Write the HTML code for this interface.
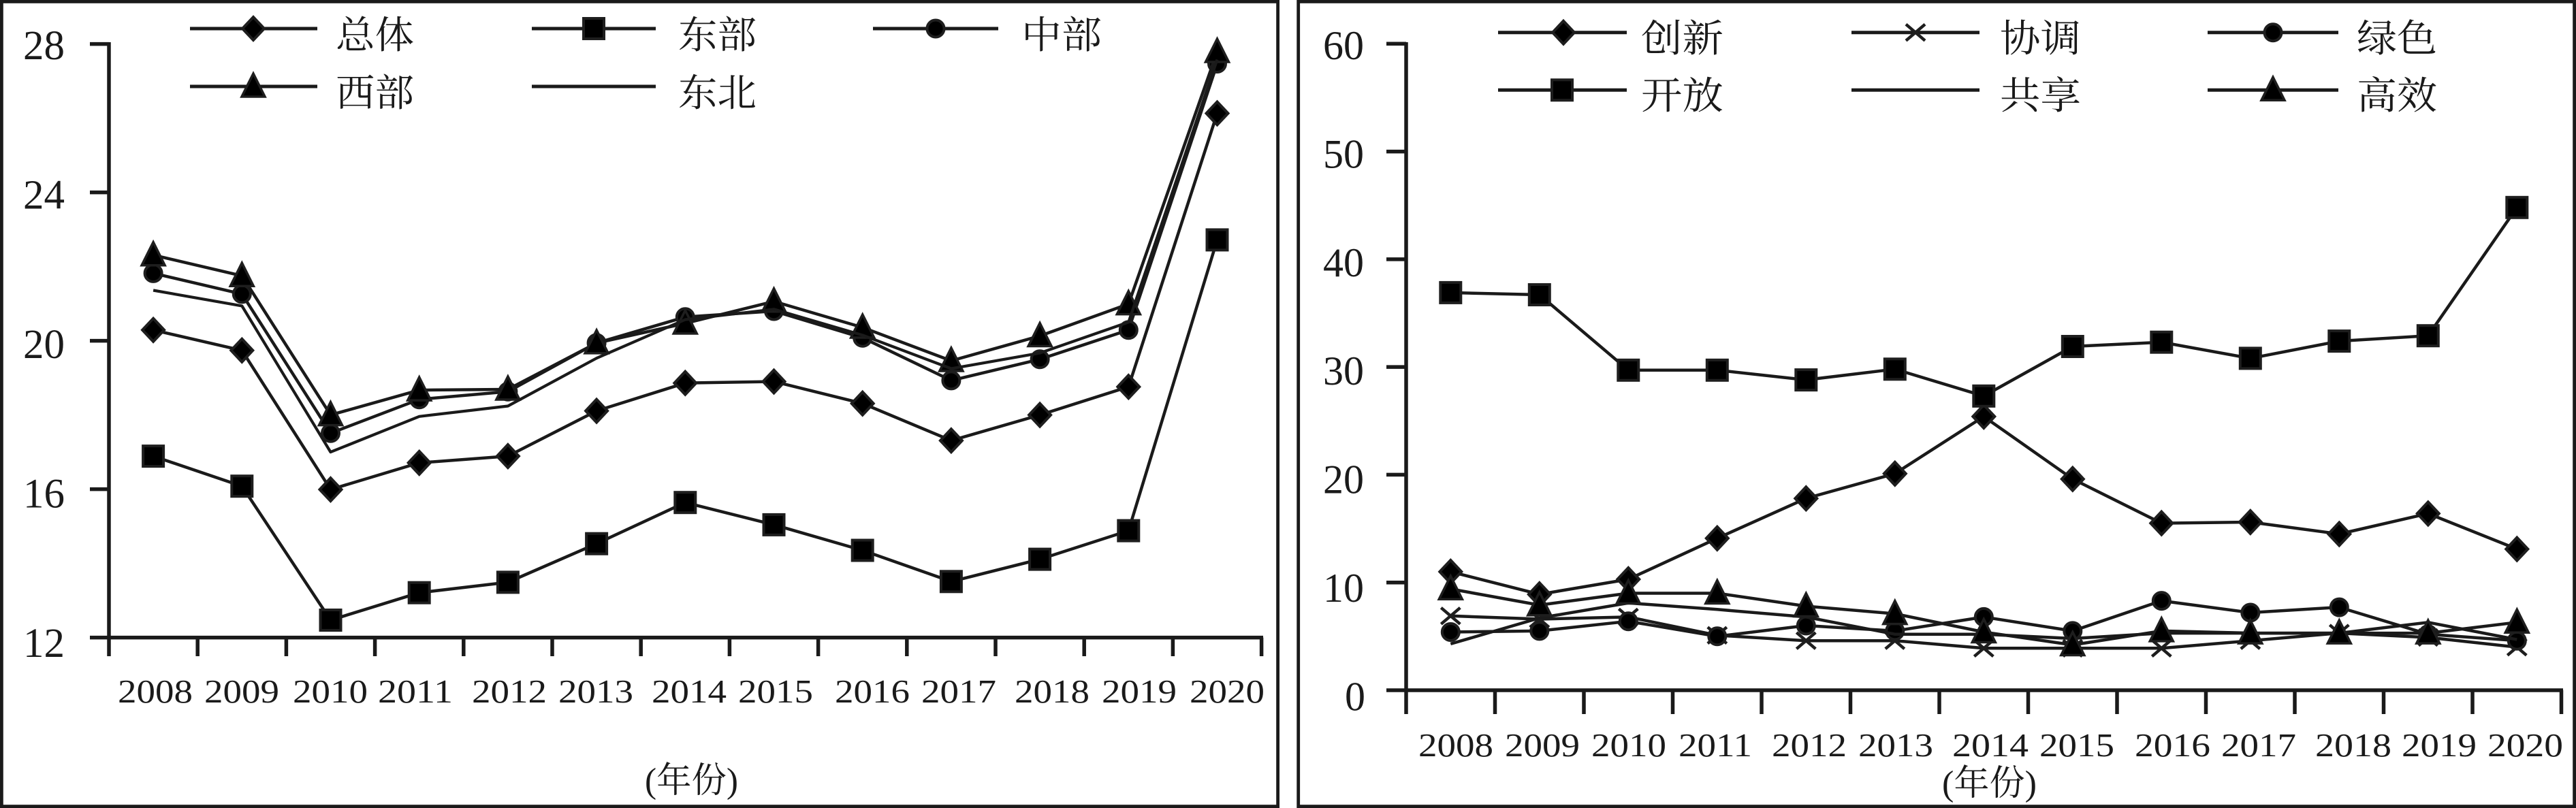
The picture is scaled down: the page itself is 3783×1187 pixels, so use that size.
<!DOCTYPE html>
<html><head><meta charset="utf-8"><style>
html,body{margin:0;padding:0;background:#fff;}
svg{display:block;}
.t{font-family:"Liberation Serif","Noto Serif CJK SC",serif;fill:#1a1a1a;}
.c{font-family:"Liberation Serif","Noto Serif CJK SC","Noto Sans CJK SC",serif;fill:#1a1a1a;}
</style></head><body>
<svg width="3783" height="1187" viewBox="0 0 3783 1187" xmlns="http://www.w3.org/2000/svg">
<defs>
<polygon id="d" points="0,-17 16,0 0,17 -16,0" fill="#000" stroke="#1e1e1e" stroke-width="4"/>
<rect id="s" x="-15" y="-15" width="30" height="30" fill="#000" stroke="#1e1e1e" stroke-width="4"/>
<polygon id="tr" points="0,-19 17,15 -17,15" fill="#000" stroke="#1e1e1e" stroke-width="3.5"/>
<circle id="o" r="12.5" fill="#000" stroke="#1e1e1e" stroke-width="4"/>
<path id="x" d="M-14,-12 L14,12 M-14,12 L14,-12" fill="none" stroke="#1e1e1e" stroke-width="4.5"/>
</defs>
<rect x="0" y="0" width="3783" height="1187" fill="#fff"/>
<!-- panel borders -->
<rect x="2.4" y="2.4" width="1874.2" height="1182.2" fill="none" stroke="#1a1a1a" stroke-width="4.8"/>
<rect x="1906.7" y="2.4" width="1873.9" height="1182.2" fill="none" stroke="#1a1a1a" stroke-width="4.8"/>

<!-- LEFT AXES -->
<g stroke="#1a1a1a" stroke-width="5.5" fill="none">
<path d="M160,62 V964 M132,64.6 H160 M132,282.6 H160 M132,500.6 H160 M132,718.6 H160 M132,936.6 H1855"/>
<path d="M290.2,936.6 V964 M420.4,936.6 V964 M550.6,936.6 V964 M680.8,936.6 V964 M811,936.6 V964 M941.2,936.6 V964 M1071.4,936.6 V964 M1201.6,936.6 V964 M1331.8,936.6 V964 M1462,936.6 V964 M1592.2,936.6 V964 M1722.4,936.6 V964 M1852.6,936.6 V964"/>
</g>
<g class="t" font-size="61" text-anchor="end">
<text x="95" y="87">28</text>
<text x="95" y="306.5">24</text>
<text x="95" y="526">20</text>
<text x="95" y="745.5">16</text>
<text x="95" y="965">12</text>
</g>
<g class="t" font-size="49">
<text x="173" y="1032" textLength="110" lengthAdjust="spacingAndGlyphs">2008</text>
<text x="300" y="1032" textLength="110" lengthAdjust="spacingAndGlyphs">2009</text>
<text x="430" y="1032" textLength="110" lengthAdjust="spacingAndGlyphs">2010</text>
<text x="555" y="1032" textLength="110" lengthAdjust="spacingAndGlyphs">2011</text>
<text x="693" y="1032" textLength="110" lengthAdjust="spacingAndGlyphs">2012</text>
<text x="820" y="1032" textLength="110" lengthAdjust="spacingAndGlyphs">2013</text>
<text x="957" y="1032" textLength="110" lengthAdjust="spacingAndGlyphs">2014</text>
<text x="1084" y="1032" textLength="110" lengthAdjust="spacingAndGlyphs">2015</text>
<text x="1226" y="1032" textLength="110" lengthAdjust="spacingAndGlyphs">2016</text>
<text x="1353" y="1032" textLength="110" lengthAdjust="spacingAndGlyphs">2017</text>
<text x="1490" y="1032" textLength="110" lengthAdjust="spacingAndGlyphs">2018</text>
<text x="1618" y="1032" textLength="110" lengthAdjust="spacingAndGlyphs">2019</text>
<text x="1747" y="1032" textLength="110" lengthAdjust="spacingAndGlyphs">2020</text>
</g>
<text class="c" x="947" y="1164" font-size="52" textLength="137" lengthAdjust="spacingAndGlyphs">(年份)</text>

<!-- LEFT LEGEND -->
<g stroke="#1a1a1a" stroke-width="5" fill="none">
<path d="M279,42 H466 M781,42 H963 M1282,42 H1466 M279,127 H466 M781,127 H963"/>
</g>
<use href="#d" x="372" y="42"/>
<use href="#s" x="872" y="42"/>
<use href="#o" x="1374" y="42"/>
<use href="#tr" x="372" y="127"/>
<g class="c" font-size="56">
<text x="493" y="71" textLength="115" lengthAdjust="spacingAndGlyphs">总体</text>
<text x="996" y="71" textLength="115" lengthAdjust="spacingAndGlyphs">东部</text>
<text x="1500" y="71" textLength="118" lengthAdjust="spacingAndGlyphs">中部</text>
<text x="493" y="156" textLength="115" lengthAdjust="spacingAndGlyphs">西部</text>
<text x="996" y="156" textLength="115" lengthAdjust="spacingAndGlyphs">东北</text>
</g>

<!-- LEFT SERIES -->
<polyline fill="none" stroke="#1a1a1a" stroke-width="4.5" stroke-linejoin="round" points="225.1,484.8 355.3,514.8 485.5,719.1 615.7,679.9 745.9,670.1 876.1,603.6 1006.3,562.7 1136.5,560.5 1266.7,592.7 1396.9,647.2 1527.1,609.6 1657.3,568.2 1787.5,166.5"/>
<g>
<use href="#d" x="225.1" y="484.8"/><use href="#d" x="355.3" y="514.8"/><use href="#d" x="485.5" y="719.1"/><use href="#d" x="615.7" y="679.9"/><use href="#d" x="745.9" y="670.1"/><use href="#d" x="876.1" y="603.6"/><use href="#d" x="1006.3" y="562.7"/><use href="#d" x="1136.5" y="560.5"/><use href="#d" x="1266.7" y="592.7"/><use href="#d" x="1396.9" y="647.2"/><use href="#d" x="1527.1" y="609.6"/><use href="#d" x="1657.3" y="568.2"/><use href="#d" x="1787.5" y="166.5"/>
</g>
<polyline fill="none" stroke="#1a1a1a" stroke-width="4.5" stroke-linejoin="round" points="225.1,670.1 355.3,714.2 485.5,911.0 615.7,870.7 745.9,855.4 876.1,798.7 1006.3,738.2 1136.5,770.9 1266.7,808.5 1396.9,854.3 1527.1,821.6 1657.3,779.6 1787.5,352.4"/>
<g>
<use href="#s" x="225.1" y="670.1"/><use href="#s" x="355.3" y="714.2"/><use href="#s" x="485.5" y="911.0"/><use href="#s" x="615.7" y="870.7"/><use href="#s" x="745.9" y="855.4"/><use href="#s" x="876.1" y="798.7"/><use href="#s" x="1006.3" y="738.2"/><use href="#s" x="1136.5" y="770.9"/><use href="#s" x="1266.7" y="808.5"/><use href="#s" x="1396.9" y="854.3"/><use href="#s" x="1527.1" y="821.6"/><use href="#s" x="1657.3" y="779.6"/><use href="#s" x="1787.5" y="352.4"/>
</g>
<polyline fill="none" stroke="#1a1a1a" stroke-width="4.5" stroke-linejoin="round" points="225.1,401.4 355.3,431.9 485.5,636.3 615.7,586.7 745.9,575.3 876.1,503.9 1006.3,465.7 1136.5,457.0 1266.7,496.2 1396.9,558.9 1527.1,527.8 1657.3,484.8 1787.5,93.5"/>
<g>
<use href="#o" x="225.1" y="401.4"/><use href="#o" x="355.3" y="431.9"/><use href="#o" x="485.5" y="636.3"/><use href="#o" x="615.7" y="586.7"/><use href="#o" x="745.9" y="575.3"/><use href="#o" x="876.1" y="503.9"/><use href="#o" x="1006.3" y="465.7"/><use href="#o" x="1136.5" y="457.0"/><use href="#o" x="1266.7" y="496.2"/><use href="#o" x="1396.9" y="558.9"/><use href="#o" x="1527.1" y="527.8"/><use href="#o" x="1657.3" y="484.8"/><use href="#o" x="1787.5" y="93.5"/>
</g>
<polyline fill="none" stroke="#1a1a1a" stroke-width="4.5" stroke-linejoin="round" points="225.1,374.7 355.3,405.2 485.5,609.6 615.7,573.1 745.9,572.0 876.1,503.9 1006.3,475.0 1136.5,442.8 1266.7,481.0 1396.9,530.0 1527.1,493.5 1657.3,446.6 1787.5,76.0"/>
<g>
<use href="#tr" x="225.1" y="374.7"/><use href="#tr" x="355.3" y="405.2"/><use href="#tr" x="485.5" y="609.6"/><use href="#tr" x="615.7" y="573.1"/><use href="#tr" x="745.9" y="572.0"/><use href="#tr" x="876.1" y="503.9"/><use href="#tr" x="1006.3" y="475.0"/><use href="#tr" x="1136.5" y="442.8"/><use href="#tr" x="1266.7" y="481.0"/><use href="#tr" x="1396.9" y="530.0"/><use href="#tr" x="1527.1" y="493.5"/><use href="#tr" x="1657.3" y="446.6"/><use href="#tr" x="1787.5" y="76.0"/>
</g>
<polyline fill="none" stroke="#1a1a1a" stroke-width="4.2" stroke-linejoin="round" points="225.1,426.5 355.3,449.4 485.5,664.1 615.7,611.8 745.9,596.5 876.1,526.2 1006.3,469.5 1136.5,454.3 1266.7,492.4 1396.9,541.5 1527.1,518.6 1657.3,473.3 1787.5,87.5"/>

<!-- RIGHT AXES -->
<g stroke="#1a1a1a" stroke-width="5.5" fill="none">
<path d="M2065,62 V1049 M2036,64.3 H2065 M2036,222.6 H2065 M2036,380.9 H2065 M2036,539.1 H2065 M2036,697.4 H2065 M2036,855.7 H2065 M2036,1014 H3764"/>
<path d="M2195.5,1014 V1049 M2326,1014 V1049 M2456.5,1014 V1049 M2587,1014 V1049 M2717.5,1014 V1049 M2848,1014 V1049 M2978.5,1014 V1049 M3109,1014 V1049 M3239.5,1014 V1049 M3370,1014 V1049 M3500.5,1014 V1049 M3631,1014 V1049 M3761.5,1014 V1049"/>
</g>
<g class="t" font-size="60" text-anchor="end">
<text x="2003" y="87">60</text>
<text x="2003" y="246.4">50</text>
<text x="2003" y="405.8">40</text>
<text x="2003" y="565.2">30</text>
<text x="2003" y="724.6">20</text>
<text x="2003" y="884">10</text>
<text x="2005" y="1043.4">0</text>
</g>
<g class="t" font-size="49">
<text x="2083" y="1111" textLength="110" lengthAdjust="spacingAndGlyphs">2008</text>
<text x="2210" y="1111" textLength="110" lengthAdjust="spacingAndGlyphs">2009</text>
<text x="2337" y="1111" textLength="110" lengthAdjust="spacingAndGlyphs">2010</text>
<text x="2465" y="1111" textLength="108" lengthAdjust="spacingAndGlyphs">2011</text>
<text x="2602" y="1111" textLength="110" lengthAdjust="spacingAndGlyphs">2012</text>
<text x="2729" y="1111" textLength="110" lengthAdjust="spacingAndGlyphs">2013</text>
<text x="2867" y="1111" textLength="112" lengthAdjust="spacingAndGlyphs">2014</text>
<text x="2995" y="1111" textLength="110" lengthAdjust="spacingAndGlyphs">2015</text>
<text x="3135" y="1111" textLength="111" lengthAdjust="spacingAndGlyphs">2016</text>
<text x="3262" y="1111" textLength="110" lengthAdjust="spacingAndGlyphs">2017</text>
<text x="3400" y="1111" textLength="112" lengthAdjust="spacingAndGlyphs">2018</text>
<text x="3527" y="1111" textLength="110" lengthAdjust="spacingAndGlyphs">2019</text>
<text x="3653" y="1111" textLength="111" lengthAdjust="spacingAndGlyphs">2020</text>
</g>
<text class="c" x="2852" y="1168" font-size="52" textLength="139" lengthAdjust="spacingAndGlyphs">(年份)</text>

<!-- RIGHT LEGEND -->
<g stroke="#1a1a1a" stroke-width="5" fill="none">
<path d="M2200,47.7 H2389 M2719,47.7 H2907 M3242,47.7 H3434 M2200,132.3 H2389 M2719,132.3 H2907 M3242,132.3 H3434"/>
</g>
<use href="#d" x="2296" y="47.7"/>
<use href="#x" x="2813" y="47.7"/>
<use href="#o" x="3338" y="47.7"/>
<use href="#s" x="2294" y="132.3"/>
<use href="#tr" x="3338" y="132.3"/>
<g class="c" font-size="56">
<text x="2410" y="76" textLength="121" lengthAdjust="spacingAndGlyphs">创新</text>
<text x="2937" y="76" textLength="119" lengthAdjust="spacingAndGlyphs">协调</text>
<text x="3461" y="76" textLength="118" lengthAdjust="spacingAndGlyphs">绿色</text>
<text x="2410" y="160" textLength="121" lengthAdjust="spacingAndGlyphs">开放</text>
<text x="2937" y="160" textLength="119" lengthAdjust="spacingAndGlyphs">共享</text>
<text x="3461" y="160" textLength="118" lengthAdjust="spacingAndGlyphs">高效</text>
</g>

<!-- RIGHT SERIES -->
<polyline fill="none" stroke="#1a1a1a" stroke-width="4.5" stroke-linejoin="round" points="2130.3,839.9 2260.8,873.1 2391.3,851.0 2521.8,790.8 2652.3,732.2 2782.8,695.8 2913.3,611.9 3043.8,703.7 3174.3,768.6 3304.8,767.0 3435.3,784.5 3565.8,754.4 3696.3,806.6"/>
<g>
<use href="#d" x="2130.3" y="839.9"/><use href="#d" x="2260.8" y="873.1"/><use href="#d" x="2391.3" y="851.0"/><use href="#d" x="2521.8" y="790.8"/><use href="#d" x="2652.3" y="732.2"/><use href="#d" x="2782.8" y="695.8"/><use href="#d" x="2913.3" y="611.9"/><use href="#d" x="3043.8" y="703.7"/><use href="#d" x="3174.3" y="768.6"/><use href="#d" x="3304.8" y="767.0"/><use href="#d" x="3435.3" y="784.5"/><use href="#d" x="3565.8" y="754.4"/><use href="#d" x="3696.3" y="806.6"/>
</g>
<polyline fill="none" stroke="#1a1a1a" stroke-width="4.5" stroke-linejoin="round" points="2130.3,904.8 2260.8,909.5 2391.3,906.4 2521.8,933.3 2652.3,941.2 2782.8,941.2 2913.3,952.3 3043.8,952.3 3174.3,952.3 3304.8,941.2 3435.3,930.1 3565.8,936.4 3696.3,950.7"/>
<g>
<use href="#x" x="2130.3" y="904.8"/><use href="#x" x="2260.8" y="909.5"/><use href="#x" x="2391.3" y="906.4"/><use href="#x" x="2521.8" y="933.3"/><use href="#x" x="2652.3" y="941.2"/><use href="#x" x="2782.8" y="941.2"/><use href="#x" x="2913.3" y="952.3"/><use href="#x" x="3043.8" y="952.3"/><use href="#x" x="3174.3" y="952.3"/><use href="#x" x="3304.8" y="941.2"/><use href="#x" x="3435.3" y="930.1"/><use href="#x" x="3565.8" y="936.4"/><use href="#x" x="3696.3" y="950.7"/>
</g>
<polyline fill="none" stroke="#1a1a1a" stroke-width="4.5" stroke-linejoin="round" points="2130.3,928.5 2260.8,926.9 2391.3,912.7 2521.8,934.8 2652.3,919.0 2782.8,926.9 2913.3,906.4 3043.8,926.9 3174.3,882.6 3304.8,900.0 3435.3,892.1 3565.8,931.7 3696.3,941.2"/>
<g>
<use href="#o" x="2130.3" y="928.5"/><use href="#o" x="2260.8" y="926.9"/><use href="#o" x="2391.3" y="912.7"/><use href="#o" x="2521.8" y="934.8"/><use href="#o" x="2652.3" y="919.0"/><use href="#o" x="2782.8" y="926.9"/><use href="#o" x="2913.3" y="906.4"/><use href="#o" x="3043.8" y="926.9"/><use href="#o" x="3174.3" y="882.6"/><use href="#o" x="3304.8" y="900.0"/><use href="#o" x="3435.3" y="892.1"/><use href="#o" x="3565.8" y="931.7"/><use href="#o" x="3696.3" y="941.2"/>
</g>
<polyline fill="none" stroke="#1a1a1a" stroke-width="4.5" stroke-linejoin="round" points="2130.3,429.9 2260.8,433.0 2391.3,543.8 2521.8,543.8 2652.3,558.1 2782.8,542.3 2913.3,581.8 3043.8,509.0 3174.3,502.7 3304.8,526.4 3435.3,501.1 3565.8,493.2 3696.3,304.8"/>
<g>
<use href="#s" x="2130.3" y="429.9"/><use href="#s" x="2260.8" y="433.0"/><use href="#s" x="2391.3" y="543.8"/><use href="#s" x="2521.8" y="543.8"/><use href="#s" x="2652.3" y="558.1"/><use href="#s" x="2782.8" y="542.3"/><use href="#s" x="2913.3" y="581.8"/><use href="#s" x="3043.8" y="509.0"/><use href="#s" x="3174.3" y="502.7"/><use href="#s" x="3304.8" y="526.4"/><use href="#s" x="3435.3" y="501.1"/><use href="#s" x="3565.8" y="493.2"/><use href="#s" x="3696.3" y="304.8"/>
</g>
<polyline fill="none" stroke="#1a1a1a" stroke-width="4.5" stroke-linejoin="round" points="2130.3,945.9 2260.8,907.9 2391.3,885.8 2521.8,895.3 2652.3,906.4 2782.8,931.7 2913.3,931.7 3043.8,938.0 3174.3,930.1 3304.8,930.1 3435.3,930.1 3565.8,914.3 3696.3,939.6"/>
<polyline fill="none" stroke="#1a1a1a" stroke-width="4.5" stroke-linejoin="round" points="2130.3,865.2 2260.8,888.9 2391.3,871.5 2521.8,871.5 2652.3,890.5 2782.8,901.6 2913.3,928.5 3043.8,947.5 3174.3,926.9 3304.8,930.1 3435.3,930.1 3565.8,930.1 3696.3,914.3"/>
<g>
<use href="#tr" x="2130.3" y="865.2"/><use href="#tr" x="2260.8" y="888.9"/><use href="#tr" x="2391.3" y="871.5"/><use href="#tr" x="2521.8" y="871.5"/><use href="#tr" x="2652.3" y="890.5"/><use href="#tr" x="2782.8" y="901.6"/><use href="#tr" x="2913.3" y="928.5"/><use href="#tr" x="3043.8" y="947.5"/><use href="#tr" x="3174.3" y="926.9"/><use href="#tr" x="3304.8" y="930.1"/><use href="#tr" x="3435.3" y="930.1"/><use href="#tr" x="3565.8" y="930.1"/><use href="#tr" x="3696.3" y="914.3"/>
</g>
</svg>
</body></html>
